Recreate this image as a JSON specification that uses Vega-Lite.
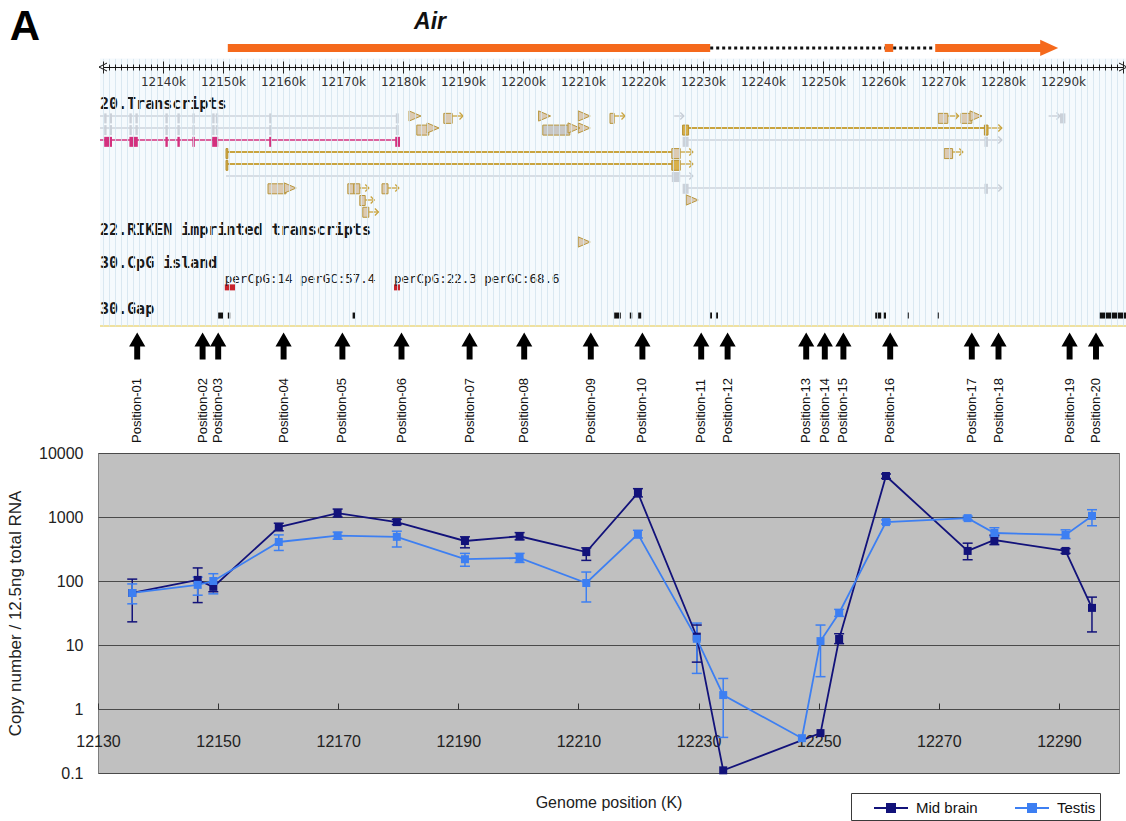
{
  "$schema": "https://vega.github.io/schema/vega-lite/v6.json",
  "width": 1021,
  "height": 320,
  "autosize": {"type": "none"},
  "padding": {"left": 98, "top": 453, "right": 7, "bottom": 48},
  "background": "white",
  "config": {
    "view": {"fill": "#c0c0c0", "stroke": "#7d7d7d", "strokeWidth": 1},
    "font": "Liberation Sans"
  },
  "datasets": {
    "expr": [
      {"position": "Position-01", "kb": 12135.7, "tissue": "Mid brain", "copies": 65, "lo": 23, "hi": 107},
      {"position": "Position-01", "kb": 12135.7, "tissue": "Testis", "copies": 65, "lo": 44, "hi": 90},
      {"position": "Position-02", "kb": 12146.6, "tissue": "Mid brain", "copies": 104, "lo": 46, "hi": 160},
      {"position": "Position-02", "kb": 12146.6, "tissue": "Testis", "copies": 87, "lo": 60, "hi": 115},
      {"position": "Position-03", "kb": 12149.2, "tissue": "Mid brain", "copies": 81, "lo": 68, "hi": 95},
      {"position": "Position-03", "kb": 12149.2, "tissue": "Testis", "copies": 100, "lo": 63, "hi": 130},
      {"position": "Position-04", "kb": 12160.1, "tissue": "Mid brain", "copies": 695, "lo": 610, "hi": 800},
      {"position": "Position-04", "kb": 12160.1, "tissue": "Testis", "copies": 407, "lo": 300, "hi": 525},
      {"position": "Position-05", "kb": 12169.9, "tissue": "Mid brain", "copies": 1150, "lo": 1000, "hi": 1330},
      {"position": "Position-05", "kb": 12169.9, "tissue": "Testis", "copies": 510, "lo": 450, "hi": 580},
      {"position": "Position-06", "kb": 12179.75, "tissue": "Mid brain", "copies": 832, "lo": 760, "hi": 920},
      {"position": "Position-06", "kb": 12179.75, "tissue": "Testis", "copies": 490, "lo": 340, "hi": 600},
      {"position": "Position-07", "kb": 12191.1, "tissue": "Mid brain", "copies": 422, "lo": 330, "hi": 490},
      {"position": "Position-07", "kb": 12191.1, "tissue": "Testis", "copies": 219, "lo": 170, "hi": 270},
      {"position": "Position-08", "kb": 12200.2, "tissue": "Mid brain", "copies": 500, "lo": 440, "hi": 570},
      {"position": "Position-08", "kb": 12200.2, "tissue": "Testis", "copies": 229, "lo": 195, "hi": 270},
      {"position": "Position-09", "kb": 12211.3, "tissue": "Mid brain", "copies": 283, "lo": 210, "hi": 330},
      {"position": "Position-09", "kb": 12211.3, "tissue": "Testis", "copies": 93, "lo": 47, "hi": 138},
      {"position": "Position-10", "kb": 12219.9, "tissue": "Mid brain", "copies": 2370, "lo": 2060, "hi": 2770},
      {"position": "Position-10", "kb": 12219.9, "tissue": "Testis", "copies": 540, "lo": 470, "hi": 620},
      {"position": "Position-11", "kb": 12229.7, "tissue": "Mid brain", "copies": 13.5, "lo": 5.4, "hi": 20.5},
      {"position": "Position-11", "kb": 12229.7, "tissue": "Testis", "copies": 12.5, "lo": 3.6, "hi": 22},
      {"position": "Position-12", "kb": 12234.1, "tissue": "Mid brain", "copies": 0.11},
      {"position": "Position-12", "kb": 12234.1, "tissue": "Testis", "copies": 1.65, "lo": 0.36, "hi": 3.0},
      {"position": "Position-13", "kb": 12247.2, "tissue": "Testis", "copies": 0.35},
      {"position": "Position-14", "kb": 12250.3, "tissue": "Mid brain", "copies": 0.42},
      {"position": "Position-14", "kb": 12250.3, "tissue": "Testis", "copies": 11.5, "lo": 3.2, "hi": 20.5},
      {"position": "Position-15", "kb": 12253.4, "tissue": "Mid brain", "copies": 12.4, "lo": 10.5, "hi": 15},
      {"position": "Position-15", "kb": 12253.4, "tissue": "Testis", "copies": 31.6, "lo": 28, "hi": 36},
      {"position": "Position-16", "kb": 12261.2, "tissue": "Mid brain", "copies": 4370, "lo": 4000, "hi": 4700},
      {"position": "Position-16", "kb": 12261.2, "tissue": "Testis", "copies": 832, "lo": 780, "hi": 900},
      {"position": "Position-17", "kb": 12274.8, "tissue": "Mid brain", "copies": 295, "lo": 215, "hi": 390},
      {"position": "Position-17", "kb": 12274.8, "tissue": "Testis", "copies": 960, "lo": 900, "hi": 1030},
      {"position": "Position-18", "kb": 12279.25, "tissue": "Mid brain", "copies": 437, "lo": 370, "hi": 520},
      {"position": "Position-18", "kb": 12279.25, "tissue": "Testis", "copies": 562, "lo": 490, "hi": 680},
      {"position": "Position-19", "kb": 12291.1, "tissue": "Mid brain", "copies": 295, "lo": 270, "hi": 320},
      {"position": "Position-19", "kb": 12291.1, "tissue": "Testis", "copies": 525, "lo": 460, "hi": 630},
      {"position": "Position-20", "kb": 12295.5, "tissue": "Mid brain", "copies": 38, "lo": 16, "hi": 56},
      {"position": "Position-20", "kb": 12295.5, "tissue": "Testis", "copies": 1040, "lo": 730, "hi": 1300}
    ],
    "tracks": [
      {"label": "20.Transcripts", "row": 1, "start": 12129.5},
      {"label": "22.RIKEN imprinted transcripts", "row": 11.5, "start": 12129.5},
      {"label": "30.CpG island", "row": 14.25, "start": 12129.5},
      {"label": "30.Gap", "row": 18.1, "start": 12129.5}
    ],
    "cpgText": [
      {"label": "perCpG:14 perGC:57.4", "row": 15.6, "start": 12150.3},
      {"label": "perCpG:22.3 perGC:68.6", "row": 15.6, "start": 12178.5}
    ],
    "introns": [
      {"row": 2, "start": 12129.5, "end": 12179.2, "kind": "gray"},
      {"row": 3, "start": 12129.5, "end": 12179.2, "kind": "gray"},
      {"row": 4, "start": 12129.5, "end": 12179.2, "kind": "magenta"},
      {"row": 5, "start": 12150.5, "end": 12225, "kind": "gold"},
      {"row": 6, "start": 12150.5, "end": 12225, "kind": "gold"},
      {"row": 7, "start": 12150.5, "end": 12225, "kind": "gray"},
      {"row": 3, "start": 12227.5, "end": 12277, "kind": "gold"},
      {"row": 4, "start": 12227.5, "end": 12277, "kind": "gray"},
      {"row": 8, "start": 12227.5, "end": 12277, "kind": "gray"}
    ],
    "blocks": [
      {"row": 2, "start": 12130.2, "end": 12130.6, "kind": "gray"},
      {"row": 2, "start": 12131.1, "end": 12131.5, "kind": "gray"},
      {"row": 2, "start": 12134.4, "end": 12134.8, "kind": "gray"},
      {"row": 2, "start": 12135.4, "end": 12135.8, "kind": "gray"},
      {"row": 2, "start": 12140.4, "end": 12140.8, "kind": "gray"},
      {"row": 2, "start": 12142.4, "end": 12142.8, "kind": "gray"},
      {"row": 2, "start": 12144.9, "end": 12145.3, "kind": "gray"},
      {"row": 2, "start": 12148.2, "end": 12148.6, "kind": "gray"},
      {"row": 2, "start": 12148.8, "end": 12149.2, "kind": "gray"},
      {"row": 2, "start": 12157.7, "end": 12158.1, "kind": "gray"},
      {"row": 2, "start": 12178.8, "end": 12179.3, "kind": "gray"},
      {"row": 3, "start": 12130.2, "end": 12130.6, "kind": "gray"},
      {"row": 3, "start": 12131.1, "end": 12131.5, "kind": "gray"},
      {"row": 3, "start": 12134.4, "end": 12134.8, "kind": "gray"},
      {"row": 3, "start": 12135.4, "end": 12135.8, "kind": "gray"},
      {"row": 3, "start": 12140.4, "end": 12140.8, "kind": "gray"},
      {"row": 3, "start": 12142.4, "end": 12142.8, "kind": "gray"},
      {"row": 3, "start": 12144.9, "end": 12145.3, "kind": "gray"},
      {"row": 3, "start": 12148.2, "end": 12148.6, "kind": "gray"},
      {"row": 3, "start": 12148.8, "end": 12149.2, "kind": "gray"},
      {"row": 3, "start": 12157.7, "end": 12158.1, "kind": "gray"},
      {"row": 3, "start": 12178.8, "end": 12179.3, "kind": "gray"},
      {"row": 4, "start": 12130.2, "end": 12131.5, "kind": "magenta"},
      {"row": 4, "start": 12134.4, "end": 12135.8, "kind": "magenta"},
      {"row": 4, "start": 12140.4, "end": 12140.8, "kind": "magenta"},
      {"row": 4, "start": 12142.4, "end": 12142.8, "kind": "magenta"},
      {"row": 4, "start": 12144.9, "end": 12145.3, "kind": "magenta"},
      {"row": 4, "start": 12148.2, "end": 12149.2, "kind": "magenta"},
      {"row": 4, "start": 12157.7, "end": 12158.1, "kind": "magenta"},
      {"row": 4, "start": 12178.7, "end": 12179.5, "kind": "magenta"},
      {"row": 5, "start": 12150.5, "end": 12150.8, "kind": "gold"},
      {"row": 6, "start": 12150.5, "end": 12150.8, "kind": "gold"},
      {"row": 5, "start": 12224.8, "end": 12226.2, "kind": "tan"},
      {"row": 6, "start": 12224.8, "end": 12226.2, "kind": "gold"},
      {"row": 7, "start": 12224.8, "end": 12226.2, "kind": "gray"},
      {"row": 3, "start": 12226.6, "end": 12227.6, "kind": "gold"},
      {"row": 3, "start": 12276.9, "end": 12277.5, "kind": "gold"},
      {"row": 4, "start": 12226.6, "end": 12227.6, "kind": "gray"},
      {"row": 4, "start": 12276.9, "end": 12277.5, "kind": "gray"},
      {"row": 8, "start": 12226.6, "end": 12227.6, "kind": "gray"},
      {"row": 8, "start": 12276.9, "end": 12277.5, "kind": "gray"},
      {"row": 2, "start": 12289.5, "end": 12290.4, "kind": "gray"},
      {"row": 3, "start": 12182.3, "end": 12184.3, "kind": "tan"},
      {"row": 2, "start": 12186.8, "end": 12188.2, "kind": "tan"},
      {"row": 2, "start": 12214.5, "end": 12215.2, "kind": "tan"},
      {"row": 2, "start": 12269.2, "end": 12270.8, "kind": "tan"},
      {"row": 2, "start": 12273, "end": 12274.8, "kind": "tan"},
      {"row": 5, "start": 12270.2, "end": 12271.6, "kind": "tan"},
      {"row": 8, "start": 12157.5, "end": 12160.5, "kind": "tan"},
      {"row": 8, "start": 12170.8, "end": 12171.8, "kind": "tan"},
      {"row": 8, "start": 12171.8, "end": 12172.8, "kind": "tan"},
      {"row": 8, "start": 12176.5, "end": 12177.5, "kind": "tan"},
      {"row": 9, "start": 12172.8, "end": 12173.7, "kind": "tan"},
      {"row": 10, "start": 12173.3, "end": 12174.3, "kind": "tan"},
      {"row": 3, "start": 12203.3, "end": 12207.8, "kind": "graybody"},
      {"row": 16.4, "start": 12150.3, "end": 12152, "kind": "cpg"},
      {"row": 16.4, "start": 12178.5, "end": 12179.5, "kind": "cpg"},
      {"row": 18.8, "start": 12149.2, "end": 12150, "kind": "gap"},
      {"row": 18.8, "start": 12150.8, "end": 12151.2, "kind": "gap"},
      {"row": 18.8, "start": 12171.6, "end": 12172, "kind": "gap"},
      {"row": 18.8, "start": 12215.2, "end": 12216.3, "kind": "gap"},
      {"row": 18.8, "start": 12217.8, "end": 12218.2, "kind": "gap"},
      {"row": 18.8, "start": 12219.2, "end": 12219.7, "kind": "gap"},
      {"row": 18.8, "start": 12231.2, "end": 12231.5, "kind": "gap"},
      {"row": 18.8, "start": 12232.2, "end": 12232.5, "kind": "gap"},
      {"row": 18.8, "start": 12258.7, "end": 12259.7, "kind": "gap"},
      {"row": 18.8, "start": 12260, "end": 12260.5, "kind": "gap"},
      {"row": 18.8, "start": 12264, "end": 12264.3, "kind": "gap"},
      {"row": 18.8, "start": 12269, "end": 12269.3, "kind": "gap"},
      {"row": 18.8, "start": 12296, "end": 12300.5, "kind": "gap"}
    ],
    "tips": [
      {"row": 2, "at": 12182.0},
      {"row": 2, "at": 12203.6},
      {"row": 2, "at": 12210.2},
      {"row": 3, "at": 12210.2},
      {"row": 9, "at": 12228.2},
      {"row": 12.5, "at": 12210.2},
      {"row": 3, "at": 12185.0},
      {"row": 3, "at": 12208.5},
      {"row": 2, "at": 12275.5},
      {"row": 8, "at": 12161.2}
    ],
    "arrows": [
      {"row": 2, "start": 12188.2, "end": 12190, "kind": "gold"},
      {"row": 2, "start": 12215.2, "end": 12217, "kind": "gold"},
      {"row": 2, "start": 12270.8, "end": 12272.6, "kind": "gold"},
      {"row": 5, "start": 12271.6, "end": 12273.3, "kind": "gold"},
      {"row": 8, "start": 12172.8, "end": 12174.3, "kind": "gold"},
      {"row": 8, "start": 12177.5, "end": 12179.3, "kind": "gold"},
      {"row": 9, "start": 12173.7, "end": 12175.2, "kind": "gold"},
      {"row": 10, "start": 12174.3, "end": 12175.9, "kind": "gold"},
      {"row": 5, "start": 12226.2, "end": 12228.3, "kind": "gold"},
      {"row": 6, "start": 12226.2, "end": 12228.3, "kind": "gold"},
      {"row": 3, "start": 12277.5, "end": 12279.8, "kind": "gold"},
      {"row": 7, "start": 12226.2, "end": 12228.3, "kind": "gray"},
      {"row": 4, "start": 12277.5, "end": 12279.8, "kind": "gray"},
      {"row": 8, "start": 12277.5, "end": 12279.8, "kind": "gray"},
      {"row": 2, "start": 12225.2, "end": 12226.8, "kind": "gray"},
      {"row": 2, "start": 12287.6, "end": 12289.5, "kind": "gray"}
    ],
    "air": [
      {"part": "exon", "row": -3.67, "start": 12150.8, "end": 12231.2},
      {"part": "gap", "row": -3.67, "start": 12231.2, "end": 12260.3},
      {"part": "exon", "row": -3.67, "start": 12260.3, "end": 12261.7},
      {"part": "gap", "row": -3.67, "start": 12261.7, "end": 12268.7},
      {"part": "exon", "row": -3.67, "start": 12268.7, "end": 12286.5}
    ],
    "airLabel": [
      {"gene": "Air", "head": 12287.7, "row": -3.67, "labelAt": 12184.5, "labelRow": -5.8}
    ],
    "panel": [
      {"panel": "A", "at": 12117, "row": -5.45}
    ]
  },
  "resolve": {"scale": {"x": "independent", "y": "independent"}},
  "layer": [
    {
      "data": {"values": [{"start": 12129.5, "end": 12300.5, "top": -2.8, "bottom": 19.5}]},
      "mark": {"type": "rect", "fill": "#f5fafd"},
      "encoding": {
        "x": {
          "field": "start", "type": "quantitative",
          "scale": {"domain": [12130, 12300], "range": [5, 1025], "nice": false, "zero": false},
          "axis": {
            "orient": "top", "offset": 386, "title": null, "labels": false, "domain": false,
            "tickCount": 170, "tickColor": "#222222", "tickWidth": 1,
            "tickSize": {"condition": {"test": "datum.value % 10 === 0", "value": 6}, "value": 3},
            "grid": true, "gridColor": "#d3e4ee", "gridWidth": 1, "gridOpacity": 0.8, "zindex": 1
          }
        },
        "x2": {"field": "end"},
        "y": {
          "field": "top", "type": "quantitative",
          "scale": {"domain": [-2.8, 19.5], "range": [-394.6, -127], "nice": false, "zero": false},
          "axis": null
        },
        "y2": {"field": "bottom"}
      }
    },
    {
      "data": {"values": [{"start": 12129.5, "end": 12300.5, "row": 19.5}]},
      "mark": {"type": "rule", "stroke": "#efe1a0", "strokeWidth": 2},
      "encoding": {
        "x": {"field": "start", "type": "quantitative", "scale": {"domain": [12130, 12300], "range": [5, 1025], "nice": false, "zero": false}, "axis": null},
        "x2": {"field": "end"},
        "y": {"field": "row", "type": "quantitative", "scale": {"domain": [-8, 30], "range": [-457, -1], "nice": false, "zero": false}, "axis": null}
      }
    },
    {
      "data": {"name": "introns"},
      "layer": [
        {"transform": [{"filter": "datum.kind === 'gray'"}], "mark": {"type": "rule", "stroke": "#cdd3db", "strokeWidth": 1.5}},
        {"transform": [{"filter": "datum.kind === 'gold'"}], "mark": {"type": "rule", "stroke": "#c9a43f", "strokeWidth": 2}},
        {"transform": [{"filter": "datum.kind === 'magenta'"}], "mark": {"type": "rule", "stroke": "#d3307e", "strokeWidth": 1.5}}
      ],
      "encoding": {
        "x": {"field": "start", "type": "quantitative", "scale": {"domain": [12130, 12300], "range": [5, 1025], "nice": false, "zero": false}, "axis": null},
        "x2": {"field": "end"},
        "y": {"field": "row", "type": "quantitative", "scale": {"domain": [-8, 30], "range": [-457, -1], "nice": false, "zero": false}, "axis": null}
      }
    },
    {
      "data": {"name": "blocks"},
      "layer": [
        {"transform": [{"filter": "datum.kind === 'gray'"}], "mark": {"type": "bar", "size": 10, "fill": "#cbd1d9"}},
        {"transform": [{"filter": "datum.kind === 'magenta'"}], "mark": {"type": "bar", "size": 10, "fill": "#d3307e"}},
        {"transform": [{"filter": "datum.kind === 'gold'"}], "mark": {"type": "bar", "size": 10, "fill": "#d8b04a", "stroke": "#b58f2e", "strokeWidth": 1}},
        {"transform": [{"filter": "datum.kind === 'tan'"}], "mark": {"type": "bar", "size": 10, "fill": "#dccab2", "stroke": "#b8963c", "strokeWidth": 1}},
        {"transform": [{"filter": "datum.kind === 'graybody'"}], "mark": {"type": "bar", "size": 10, "fill": "#c9c7c4", "stroke": "#b8963c", "strokeWidth": 1}},
        {"transform": [{"filter": "datum.kind === 'cpg'"}], "mark": {"type": "bar", "size": 6, "fill": "#c8232b"}},
        {"transform": [{"filter": "datum.kind === 'gap'"}], "mark": {"type": "bar", "size": 6, "fill": "#111111"}}
      ],
      "encoding": {
        "x": {"field": "start", "type": "quantitative", "scale": {"domain": [12130, 12300], "range": [5, 1025], "nice": false, "zero": false}, "axis": null},
        "x2": {"field": "end"},
        "y": {"field": "row", "type": "quantitative", "scale": {"domain": [-8, 30], "range": [-457, -1], "nice": false, "zero": false}, "axis": null}
      }
    },
    {
      "data": {"name": "tips"},
      "mark": {"type": "point", "shape": "M-1,-0.85L1,0L-1,0.85Z", "size": 144, "filled": true, "fill": "#dccab2", "stroke": "#b8963c", "strokeWidth": 1, "opacity": 1},
      "encoding": {
        "x": {"field": "at", "type": "quantitative", "scale": {"domain": [12130, 12300], "range": [5, 1025], "nice": false, "zero": false}, "axis": null},
        "y": {"field": "row", "type": "quantitative", "scale": {"domain": [-8, 30], "range": [-457, -1], "nice": false, "zero": false}, "axis": null}
      }
    },
    {
      "data": {"name": "arrows"},
      "layer": [
        {"transform": [{"filter": "datum.kind === 'gold'"}], "mark": {"type": "rule", "stroke": "#c9a43f", "strokeWidth": 1.3}},
        {"transform": [{"filter": "datum.kind === 'gray'"}], "mark": {"type": "rule", "stroke": "#c6ccd5", "strokeWidth": 1.3}}
      ],
      "encoding": {
        "x": {"field": "start", "type": "quantitative", "scale": {"domain": [12130, 12300], "range": [5, 1025], "nice": false, "zero": false}, "axis": null},
        "x2": {"field": "end"},
        "y": {"field": "row", "type": "quantitative", "scale": {"domain": [-8, 30], "range": [-457, -1], "nice": false, "zero": false}, "axis": null}
      }
    },
    {
      "data": {"name": "arrows"},
      "layer": [
        {"transform": [{"filter": "datum.kind === 'gold'"}], "mark": {"type": "point", "shape": "M-1,-1L0,0L-1,1", "size": 49, "filled": false, "stroke": "#c9a43f", "strokeWidth": 1.3, "opacity": 1}},
        {"transform": [{"filter": "datum.kind === 'gray'"}], "mark": {"type": "point", "shape": "M-1,-1L0,0L-1,1", "size": 49, "filled": false, "stroke": "#c6ccd5", "strokeWidth": 1.3, "opacity": 1}}
      ],
      "encoding": {
        "x": {"field": "end", "type": "quantitative", "scale": {"domain": [12130, 12300], "range": [5, 1025], "nice": false, "zero": false}, "axis": null},
        "y": {"field": "row", "type": "quantitative", "scale": {"domain": [-8, 30], "range": [-457, -1], "nice": false, "zero": false}, "axis": null}
      }
    },
    {
      "data": {"name": "tracks"},
      "mark": {"type": "text", "align": "left", "baseline": "middle", "font": "DejaVu Sans Mono", "fontWeight": "bold", "fontSize": 15, "color": "#1a1a1a"},
      "encoding": {
        "x": {"field": "start", "type": "quantitative", "scale": {"domain": [12130, 12300], "range": [5, 1025], "nice": false, "zero": false}, "axis": null},
        "y": {"field": "row", "type": "quantitative", "scale": {"domain": [-8, 30], "range": [-457, -1], "nice": false, "zero": false}, "axis": null},
        "text": {"field": "label"}
      }
    },
    {
      "data": {"name": "cpgText"},
      "mark": {"type": "text", "align": "left", "baseline": "middle", "font": "DejaVu Sans Mono", "fontSize": 12.5, "color": "#222222"},
      "encoding": {
        "x": {"field": "start", "type": "quantitative", "scale": {"domain": [12130, 12300], "range": [5, 1025], "nice": false, "zero": false}, "axis": null},
        "y": {"field": "row", "type": "quantitative", "scale": {"domain": [-8, 30], "range": [-457, -1], "nice": false, "zero": false}, "axis": null},
        "text": {"field": "label"}
      }
    },
    {
      "data": {"name": "air"},
      "layer": [
        {"transform": [{"filter": "datum.part === 'exon'"}], "mark": {"type": "rule", "stroke": "#f5691c", "strokeWidth": 8, "strokeCap": "butt"}},
        {"transform": [{"filter": "datum.part === 'gap'"}], "mark": {"type": "rule", "stroke": "#111111", "strokeWidth": 3, "strokeDash": [3, 3]}}
      ],
      "encoding": {
        "x": {"field": "start", "type": "quantitative", "scale": {"domain": [12130, 12300], "range": [5, 1025], "nice": false, "zero": false}, "axis": null},
        "x2": {"field": "end"},
        "y": {"field": "row", "type": "quantitative", "scale": {"domain": [-8, 30], "range": [-457, -1], "nice": false, "zero": false}, "axis": null}
      }
    },
    {
      "data": {"name": "airLabel"},
      "mark": {"type": "point", "shape": "M-1,-0.9L1,0L-1,0.9Z", "size": 324, "filled": true, "fill": "#f5691c", "strokeWidth": 0, "opacity": 1},
      "encoding": {
        "x": {"field": "head", "type": "quantitative", "scale": {"domain": [12130, 12300], "range": [5, 1025], "nice": false, "zero": false}, "axis": null},
        "y": {"field": "row", "type": "quantitative", "scale": {"domain": [-8, 30], "range": [-457, -1], "nice": false, "zero": false}, "axis": null}
      }
    },
    {
      "data": {"name": "airLabel"},
      "mark": {"type": "text", "align": "center", "baseline": "middle", "font": "Liberation Sans", "fontWeight": "bold", "fontStyle": "italic", "fontSize": 23, "color": "#111111"},
      "encoding": {
        "x": {"field": "labelAt", "type": "quantitative", "scale": {"domain": [12130, 12300], "range": [5, 1025], "nice": false, "zero": false}, "axis": null},
        "y": {"field": "labelRow", "type": "quantitative", "scale": {"domain": [-8, 30], "range": [-457, -1], "nice": false, "zero": false}, "axis": null},
        "text": {"field": "gene"}
      }
    },
    {
      "data": {"name": "panel"},
      "mark": {"type": "text", "align": "center", "baseline": "middle", "font": "Liberation Sans", "fontWeight": "bold", "fontSize": 42, "color": "#000000"},
      "encoding": {
        "x": {"field": "at", "type": "quantitative", "scale": {"domain": [12130, 12300], "range": [5, 1025], "nice": false, "zero": false}, "axis": null},
        "y": {"field": "row", "type": "quantitative", "scale": {"domain": [-8, 30], "range": [-457, -1], "nice": false, "zero": false}, "axis": null},
        "text": {"field": "panel"}
      }
    },
    {
      "data": {"name": "expr"},
      "transform": [{"filter": "datum.tissue === 'Testis'"}],
      "mark": {"type": "point", "shape": "M0,-1L0.6,0.04L0.22,0.04L0.22,1L-0.22,1L-0.22,0.04L-0.6,0.04Z", "size": 729, "filled": true, "fill": "#000000", "strokeWidth": 0, "opacity": 1},
      "encoding": {
        "x": {"field": "kb", "type": "quantitative", "scale": {"domain": [12130, 12300], "range": [5, 1025], "nice": false, "zero": false}, "axis": null},
        "y": {"datum": 21.17, "type": "quantitative", "scale": {"domain": [-8, 30], "range": [-457, -1], "nice": false, "zero": false}, "axis": null}
      }
    },
    {
      "data": {"name": "expr"},
      "transform": [{"filter": "datum.tissue === 'Testis'"}],
      "mark": {"type": "text", "angle": 270, "align": "left", "baseline": "middle", "font": "Liberation Sans", "fontSize": 13, "color": "#111111"},
      "encoding": {
        "x": {"field": "kb", "type": "quantitative", "scale": {"domain": [12130, 12300], "range": [5, 1025], "nice": false, "zero": false}, "axis": null},
        "y": {"datum": 29.25, "type": "quantitative", "scale": {"domain": [-8, 30], "range": [-457, -1], "nice": false, "zero": false}, "axis": null},
        "text": {"field": "position"}
      }
    },
    {
      "data": {"values": [{"end": "left", "kb": 12130}, {"end": "right", "kb": 12300}]},
      "encoding": {
        "x": {
          "field": "kb", "type": "quantitative",
          "scale": {"domain": [12130, 12300], "range": [5, 1025], "nice": false, "zero": false},
          "axis": {
            "orient": "bottom", "offset": -706, "title": null, "zindex": 2,
            "domainColor": "#111111", "domainWidth": 1,
            "tickCount": 170, "tickColor": "#222222", "tickWidth": 1,
            "tickSize": {"condition": {"test": "datum.value % 10 === 0", "value": 6}, "value": 3},
            "labelExpr": "datum.value % 10 === 0 && datum.value > 12130 && datum.value < 12300 ? datum.value + 'k' : ''",
            "labelFont": "DejaVu Sans", "labelFontSize": 12, "labelColor": "#333333", "labelPadding": 3,
            "labelOverlap": false, "labelFlush": false, "labelBound": false, "grid": false
          }
        },
        "y": {"datum": -2.08, "type": "quantitative", "scale": {"domain": [-8, 30], "range": [-457, -1], "nice": false, "zero": false}, "axis": null}
      },
      "layer": [
        {
          "transform": [{"filter": "datum.end === 'left'"}],
          "mark": {"type": "point", "shape": "M1,-1L-1,0L1,1", "size": 64, "filled": false, "stroke": "#111111", "strokeWidth": 1, "opacity": 1}
        },
        {
          "transform": [{"filter": "datum.end === 'right'"}],
          "mark": {"type": "point", "shape": "M-1,-1L1,0L-1,1", "size": 64, "filled": false, "stroke": "#111111", "strokeWidth": 1, "opacity": 1}
        }
      ]
    },
    {
      "data": {"name": "expr"},
      "encoding": {
        "x": {
          "field": "kb", "type": "quantitative",
          "scale": {"domain": [12130, 12300], "nice": false, "zero": false},
          "axis": {
            "orient": "bottom", "offset": -64,
            "values": [12130, 12150, 12170, 12190, 12210, 12230, 12250, 12270, 12290],
            "format": "d", "domain": false, "grid": false,
            "tickSize": -6, "tickColor": "#333333", "tickWidth": 1,
            "labelFont": "Liberation Sans", "labelFontSize": 16, "labelColor": "#222222",
            "labelPadding": 30, "labelFlush": false, "labelOverlap": false,
            "title": "Genome position (K)", "titleFont": "Liberation Sans", "titleFontSize": 16,
            "titleFontWeight": "normal", "titleColor": "#222222", "titleY": 93, "titleBaseline": "middle"
          }
        },
        "y": {
          "field": "copies", "type": "quantitative",
          "scale": {"type": "log", "domain": [0.1, 10000], "nice": false},
          "axis": {
            "orient": "left", "values": [0.1, 1, 10, 100, 1000, 10000],
            "labelExpr": "datum.value < 1 ? '0.1' : format(datum.value, 'd')",
            "domain": false, "ticks": false, "grid": true, "gridColor": "#4a4a4a", "gridWidth": 1,
            "labelFont": "Liberation Sans", "labelFontSize": 16, "labelColor": "#222222", "labelPadding": 15,
            "title": "Copy number / 12.5ng total RNA", "titleFont": "Liberation Sans", "titleFontSize": 17,
            "titleFontWeight": "normal", "titleColor": "#222222",
            "titleX": -83, "titleY": 160, "titleAngle": 270, "titleAlign": "center", "titleBaseline": "middle"
          }
        },
        "color": {
          "field": "tissue", "type": "nominal",
          "scale": {"domain": ["Mid brain", "Testis"], "range": ["#12127a", "#3d7ff2"]},
          "legend": {
            "title": null, "orient": "none", "legendX": 753, "legendY": 340,
            "direction": "horizontal", "gridAlign": "all",
            "fillColor": "#ffffff", "strokeColor": "#3a3a3a",
            "padding": 4, "symbolType": "M-1.7,0H1.7M-0.4,-0.4H0.4V0.4H-0.4Z",
            "symbolSize": 400, "symbolStrokeWidth": 2, "symbolOffset": 25, "symbolOpacity": 1,
            "labelFont": "Liberation Sans", "labelFontSize": 15, "labelColor": "#111111",
            "labelOffset": 14, "columnPadding": 18,
            "encode": {"symbols": {"update": {
              "fill": {"signal": "scale('color', datum.value)"},
              "stroke": {"signal": "scale('color', datum.value)"}
            }}}
          }
        }
      },
      "layer": [
        {
          "transform": [{"filter": "isValid(datum.lo)"}],
          "mark": {"type": "rule", "strokeWidth": 1.5},
          "encoding": {"y": {"field": "lo", "type": "quantitative"}, "y2": {"field": "hi"}}
        },
        {
          "transform": [{"filter": "isValid(datum.lo)"}],
          "mark": {"type": "tick", "orient": "horizontal", "size": 10, "thickness": 1.5, "opacity": 1},
          "encoding": {"y": {"field": "lo", "type": "quantitative"}}
        },
        {
          "transform": [{"filter": "isValid(datum.hi)"}],
          "mark": {"type": "tick", "orient": "horizontal", "size": 10, "thickness": 1.5, "opacity": 1},
          "encoding": {"y": {"field": "hi", "type": "quantitative"}}
        },
        {
          "mark": {"type": "line", "strokeWidth": 1.8}
        },
        {
          "mark": {"type": "point", "shape": "square", "filled": true, "size": 64, "opacity": 1}
        }
      ]
    }
  ]
}
